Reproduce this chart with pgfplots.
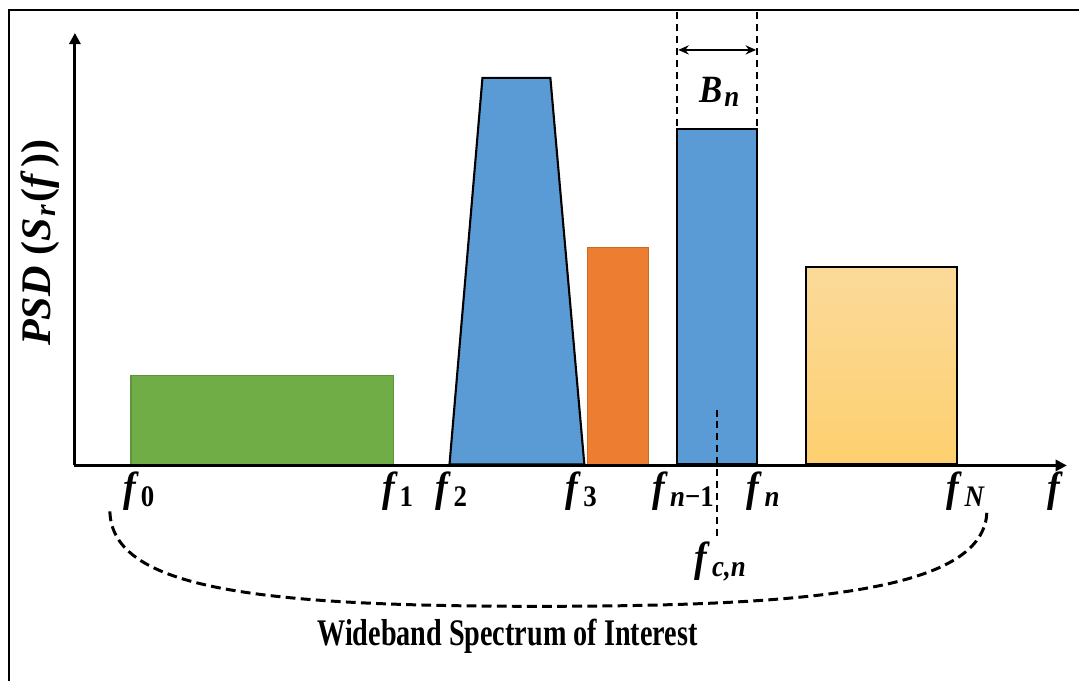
\documentclass[border=0pt]{standalone}
\usepackage{fontspec}
\setmainfont{Liberation Serif}
\usepackage{pgfplots}
\pgfplotsset{compat=1.18}
\usetikzlibrary{arrows.meta}
\definecolor{cgreen}{HTML}{70AD47}
\definecolor{cblue}{HTML}{5B9BD5}
\definecolor{corange}{HTML}{ED7D31}
\definecolor{cytop}{HTML}{FBDA9A}
\definecolor{cybot}{HTML}{FDCF6F}
\newcommand\bi[1]{\textbf{\textit{#1}}}
\newcommand\sub[1]{\kern0.6pt\raisebox{-0.25ex}{\fontsize{8.5}{9}\selectfont #1}}
\newcommand\F[1]{\bi{f}\sub{\textbf{#1}}}
\begin{document}
\begin{tikzpicture}
\begin{axis}[
  width=10.8cm, height=6.82cm, scale only axis,
  xmin=0, xmax=1080, ymin=0, ymax=682, y dir=reverse,
  hide axis, clip=false,
]
\path (axis cs:0,0) rectangle (axis cs:1080,682);
% frame (top and left visible)
\draw[line width=0.7pt] (axis cs:9,682) -- (axis cs:9,10) -- (axis cs:1080,10);
% spectrum blocks
\addplot[fill=cgreen, draw=cgreen!85!black, line width=0.4pt] coordinates {(131,465) (131,376) (394,376) (394,465)} -- cycle;
\addplot[fill=cblue, draw=black, line width=0.6pt] coordinates {(450,465) (483,78) (551,78) (585,465)} -- cycle;
\addplot[fill=corange, draw=corange!85!black, line width=0.4pt] coordinates {(588,465) (588,248) (649,248) (649,465)} -- cycle;
\addplot[fill=cblue, draw=black, line width=0.6pt] coordinates {(678,465) (678,129) (758,129) (758,465)} -- cycle;
\addplot[shade, top color=cytop, bottom color=cybot, draw=black, line width=0.6pt] coordinates {(807,465) (807,267) (958,267) (958,465)} -- cycle;
% axes
\draw[line width=0.85pt, -{Triangle[length=3.2pt,width=3.2pt]}] (axis cs:75,466) -- (axis cs:75,33);
\draw[line width=0.85pt, -{Triangle[length=3.2pt,width=3.2pt]}] (axis cs:74,466) -- (axis cs:1068,466);
% bandwidth markers
\draw[line width=0.55pt, dash pattern=on 2pt off 1.4pt] (axis cs:678,12) -- (axis cs:678,129);
\draw[line width=0.55pt, dash pattern=on 2pt off 1.4pt] (axis cs:758,12) -- (axis cs:758,129);
\draw[line width=0.6pt, {Stealth[length=3pt,width=2.6pt]}-{Stealth[length=3pt,width=2.6pt]}] (axis cs:679,50) -- (axis cs:757,50);
\node[font=\fontsize{11}{12}\selectfont, xscale=0.9] at (axis cs:720,92) {\bi{B}\sub{\bi{n}}};
% centre frequency
\draw[line width=0.5pt, dash pattern=on 2pt off 1.4pt] (axis cs:718,410) -- (axis cs:718,540);
% labels
\begin{scope}[every node/.style={font=\fontsize{12}{13}\selectfont, xscale=0.9}]
\node at (axis cs:139,492) {\F{0}};
\node at (axis cs:398,492) {\F{1}};
\node at (axis cs:452,492) {\F{2}};
\node at (axis cs:582,492) {\F{3}};
\node at (axis cs:684,492) {\bi{f}\sub{\bi{n}\textbf{−1}}};
\node at (axis cs:764,492) {\bi{f}\sub{\bi{n}}};
\node at (axis cs:967,492) {\bi{f}\sub{\bi{N}}};
\node at (axis cs:1057,492) {\bi{f}};
\node at (axis cs:721,562) {\bi{f}\sub{\bi{c,n}}};
\end{scope}
% y label
\node[rotate=90, font=\fontsize{12}{14}\selectfont] at (axis cs:40,243) {\bi{PSD} \textbf{(}\bi{S}\sub{\bi{r}}\kern0.5pt\textbf{(}\bi{f}\kern1pt\textbf{))}};
% wideband brace
\draw[line width=0.85pt, dash pattern=on 2.8pt off 1.5pt] (axis cs:110,512) .. controls (axis cs:112,590) and (axis cs:260,607) .. (axis cs:540,607) .. controls (axis cs:820,607) and (axis cs:986,590) .. (axis cs:988,512);
\node[font=\fontsize{10.7}{13}\selectfont\bfseries, xscale=0.75] at (axis cs:508,637) {Wideband Spectrum of Interest};
\end{axis}
\end{tikzpicture}
\end{document}
